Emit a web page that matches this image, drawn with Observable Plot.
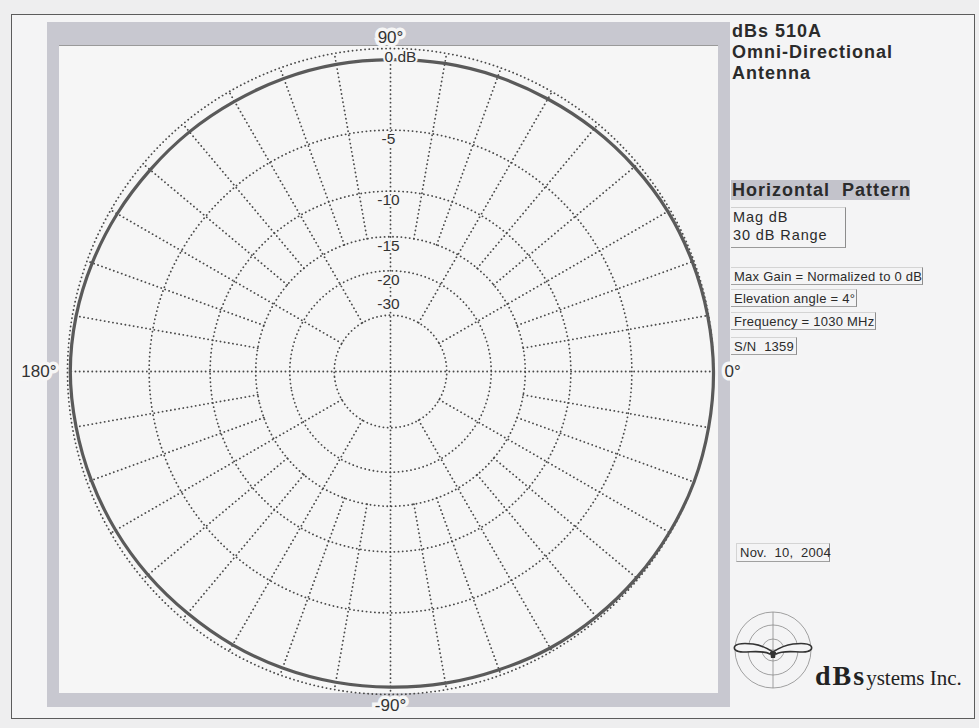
<!DOCTYPE html>
<html><head><meta charset="utf-8">
<script src="https://cdn.jsdelivr.net/npm/d3@7"></script>
<script src="https://cdn.jsdelivr.net/npm/@observablehq/plot@0.6"></script>
<style>
body{margin:0;background:#eeeeef;font-family:"Liberation Sans",Arial,sans-serif;color:#2b2b2b;}
#page{position:relative;width:979px;height:728px;overflow:hidden;}
#frame{position:absolute;left:11px;top:14px;width:964px;height:705px;border:1.5px solid #5c5c5c;background:#f4f4f5;box-sizing:border-box;}
#band{position:absolute;left:47px;top:22px;width:683px;height:685px;background:#c8c8d0;}
#plotarea{position:absolute;left:59px;top:45px;width:659px;height:648px;background:#f6f6f6;border-top:1px solid #9a9a9a;box-sizing:border-box;}
#chart{position:absolute;left:0;top:0;}
.t{position:absolute;white-space:pre;}
.title{left:732px;top:21px;font-size:18px;font-weight:bold;line-height:21px;letter-spacing:1px;}
.hp{left:731px;top:180px;width:179px;height:20px;background:#c3c3cb;font-size:18px;font-weight:bold;line-height:20px;letter-spacing:1px;padding-left:1px;box-sizing:border-box;}
.mag{left:731px;top:207px;width:115px;height:41px;font-size:14.5px;line-height:18px;letter-spacing:0.9px;padding-left:2px;border-right:1.5px solid #8c8c8c;border-bottom:1.5px solid #9a9a9a;border-top:1px solid #d0d0d0;box-sizing:border-box;}
.box{left:731px;height:18px;font-size:13px;line-height:17px;letter-spacing:0.25px;padding-left:3px;border-right:1.5px solid #8c8c8c;border-bottom:1px solid #a0a0a0;border-top:1px solid #d4d4d4;box-sizing:border-box;}
.logo{position:absolute;left:733px;top:608px;}
.brand{left:815px;top:660px;font-family:"Liberation Serif","Times New Roman",serif;color:#222;}
</style></head>
<body>
<div id="page">
  <div id="frame"></div>
  <div id="band"></div>
  <div id="plotarea"></div>
  <div id="chart"></div>
  <div class="t title">dBs 510A<br>Omni-Directional<br>Antenna</div>
  <div class="t hp">Horizontal  Pattern</div>
  <div class="t mag">Mag dB<br>30 dB Range</div>
  <div class="t box" style="top:267px;width:192px;">Max Gain = Normalized to 0 dB</div>
  <div class="t box" style="top:289px;width:126px;">Elevation angle = 4°</div>
  <div class="t box" style="top:312px;width:145px;">Frequency = 1030 MHz</div>
  <div class="t box" style="top:337px;width:66px;">S/N  1359</div>
  <div class="t box" style="top:543px;left:736px;width:94px;height:19px;border-left:1px solid #d4d4d4;">Nov.  10,  2004</div>
  <svg class="logo" width="84" height="84" viewBox="0 0 84 84">
    <g fill="none" stroke="#8a8a8a" stroke-width="0.8">
      <circle cx="40" cy="42" r="38"/><circle cx="40" cy="42" r="25"/><circle cx="40" cy="42" r="11"/>
      <line x1="40" y1="4" x2="40" y2="80"/><line x1="2" y1="42" x2="78" y2="42"/>
    </g>
    <path d="M40 44 C34 40 28 37 20 36 C12 35 5 35 2 38 C0 41 3 44 10 44 C20 44 30 42 37 46 Z M40 44 C46 40 52 37 60 36 C68 35 75 35 78 38 C80 41 77 44 70 44 C60 44 50 42 43 46 Z" fill="#f4f4f5" stroke="#333" stroke-width="1.6"/>
    <path d="M37 44 L43 44 L42 50 L38 50 Z" fill="#333"/>
  </svg>
  <div class="t brand"><span style="font-size:28px;font-weight:bold;letter-spacing:2px;">dBs</span><span style="font-size:21px;">ystems Inc.</span></div>
</div>
<script>
// ---- data ----
const ringDb = [0, -5, -10, -15, -20, -30];
const ringLabels = ["0 dB", "-5", "-10", "-15", "-20", "-30"];
const axisAngles = [0, 90, 180, 270];
const spoke30 = [30, 60, 120, 150, 210, 240, 300, 330];
const spoke10 = [10, 20, 40, 50, 70, 80, 100, 110, 130, 140, 160, 170, 190, 200, 220, 230, 250, 260, 280, 290, 310, 320, 340, 350];
const angleTicks = [0, 90, 180, 270];
const angleTickLabels = ["0°", "90°", "180°", "-90°"];
const patternAngle = [0, 10, 20, 30, 40, 50, 60, 70, 80, 90, 100, 110, 120, 130, 140, 150, 160, 170, 180, 190, 200, 210, 220, 230, 240, 250, 260, 270, 280, 290, 300, 310, 320, 330, 340, 350];
const patternDb = [0.0, -0.05, -0.1, -0.15, -0.25, -0.35, -0.45, -0.5, -0.55, -0.6, -0.6, -0.6, -0.6, -0.55, -0.5, -0.4, -0.3, -0.2, -0.15, -0.2, -0.25, -0.3, -0.35, -0.4, -0.4, -0.4, -0.4, -0.4, -0.35, -0.3, -0.2, -0.15, -0.1, -0.05, 0.0, 0.0];

// ---- scale helpers (ARRL-style log radial scale) ----
const R0 = 30;                                   // projection degrees of the 0 dB ring
const rad = db => R0 * Math.pow(0.89, -db / 2);
const lon = a => a + 90;
const latDb = db => 90 - rad(db);
const labelLat = 90 - R0 * 334 / 323;

const pattern = patternAngle.map((a, i) => ({a, db: patternDb[i]}));
const rings = ringDb.map((db, i) => ({db, label: ringLabels[i]}));
const ticks = angleTicks.map((a, i) => ({a, label: angleTickLabels[i]}));

const cx = 390, cy = 371, r0px = 323, W = 979, H = 728;
const D = 32, P = D / R0 * r0px;
const bg = "#f6f6f6";
const dotted = {stroke: "#4a4a4a", strokeWidth: 1.8, strokeDasharray: "0.1 4.1", strokeLinecap: "round"};
const ringText = {x: lon(90), y: d => latDb(d.db), text: "label", fontSize: 15.5, fill: "#333", stroke: bg, strokeWidth: 4};

const chart = Plot.plot({
  width: W, height: H,
  marginLeft: cx - P, marginRight: W - cx - P, marginTop: cy - P, marginBottom: H - cy - P,
  projection: {type: "azimuthal-equidistant", rotate: [0, -90], domain: d3.geoCircle().center([0, 90]).radius(D)()},
  style: {background: "transparent", fontFamily: "'Liberation Sans', Arial, sans-serif", overflow: "visible"},
  marks: [
    Plot.geo(rings, {geometry: d => d3.geoCircle().center([0, 90]).radius(rad(d.db)).precision(0.5)(), fill: "none", ...dotted}),
    Plot.link(axisAngles, {x1: d => lon(d), y1: 90, x2: d => lon(d), y2: latDb(0), ...dotted}),
    Plot.link(spoke30, {x1: d => lon(d), y1: latDb(-30), x2: d => lon(d), y2: latDb(0), ...dotted}),
    Plot.link(spoke10, {x1: d => lon(d), y1: latDb(-15), x2: d => lon(d), y2: latDb(0), ...dotted}),
    Plot.line(pattern, {x: d => lon(d.a), y: d => latDb(d.db), curve: "catmull-rom-closed", stroke: "#5a5a5a", strokeWidth: 3.2}),
    Plot.text(rings.filter(d => d.db === 0), {...ringText, dy: 9, dx: 10}),
    Plot.text(rings.filter(d => d.db < 0 && d.db > -30), {...ringText, dy: 9, dx: -2}),
    Plot.text(rings.filter(d => d.db <= -30), {...ringText, dy: -11, dx: -2}),
    Plot.text(ticks.filter(d => d.a === 90 || d.a === 270), {x: d => lon(d.a), y: labelLat, text: "label", fontSize: 17, fill: "#333", stroke: bg, strokeWidth: 7, strokeLinejoin: "miter"}),
    Plot.text(ticks.filter(d => d.a === 180), {x: d => lon(d.a), y: labelLat, text: "label", textAnchor: "end", fontSize: 17, fill: "#333", stroke: bg, strokeWidth: 7, strokeLinejoin: "miter"}),
    Plot.text(ticks.filter(d => d.a === 0), {x: d => lon(d.a), y: labelLat, text: "label", textAnchor: "start", fontSize: 17, fill: "#333", stroke: bg, strokeWidth: 7, strokeLinejoin: "miter"})
  ]
});
document.getElementById("chart").appendChild(chart);
</script>
</body></html>
